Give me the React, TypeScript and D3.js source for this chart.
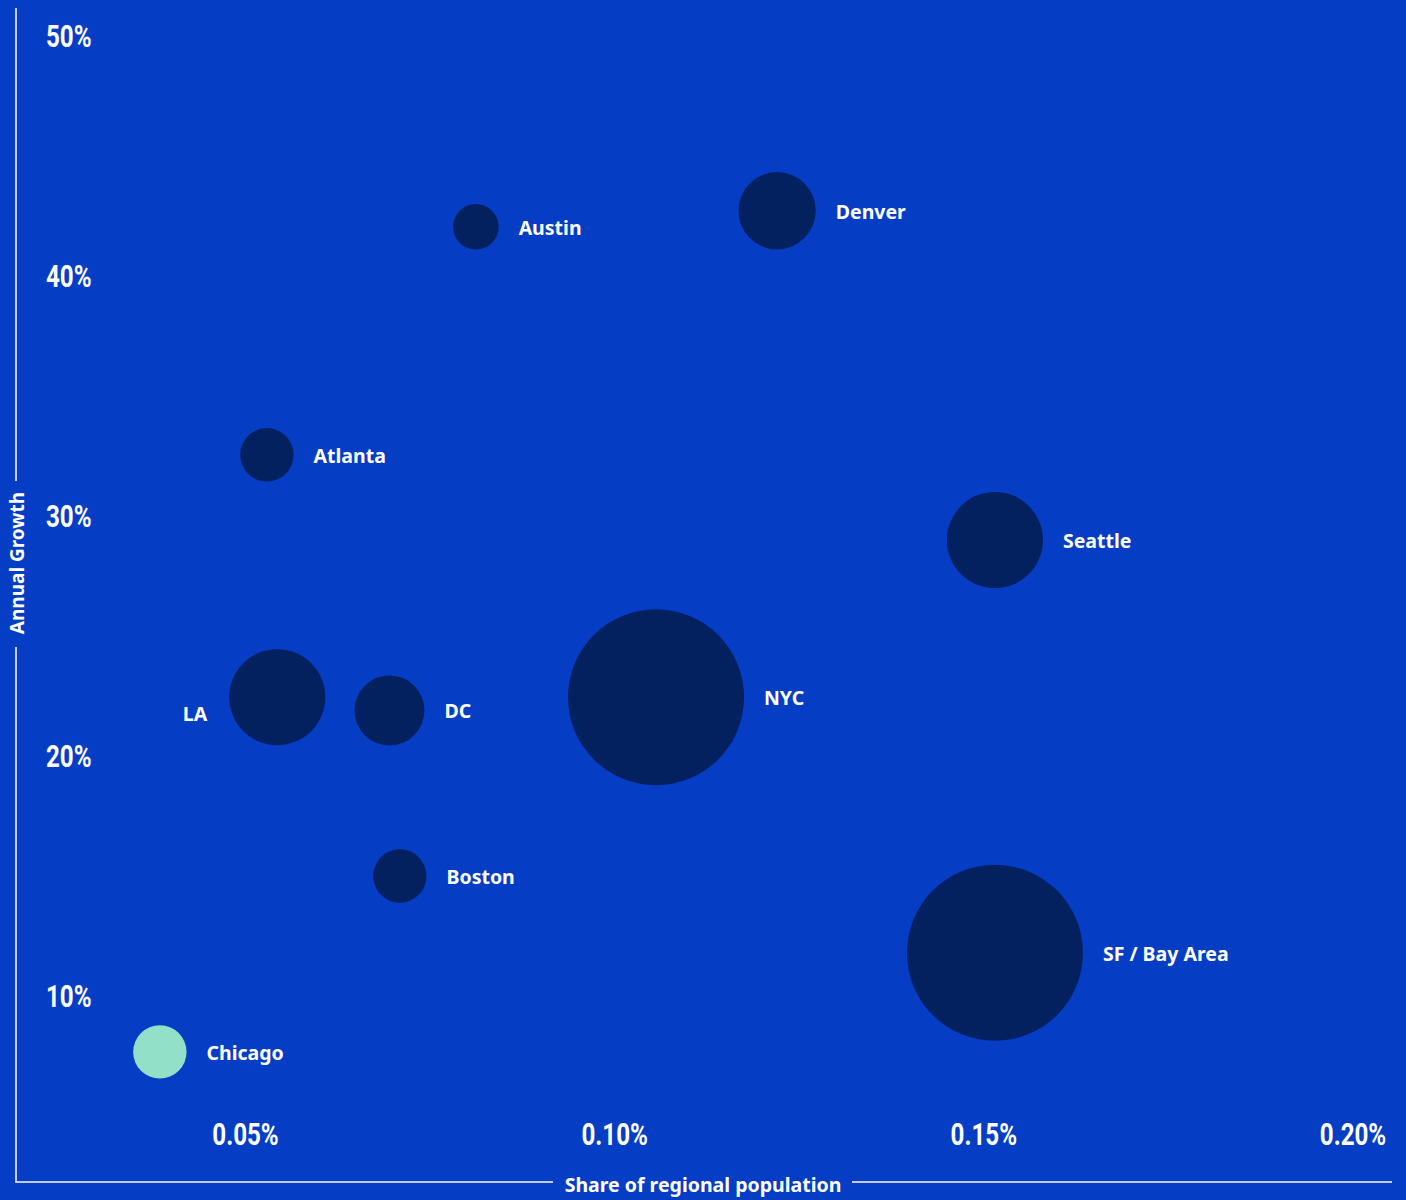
import React from "react";
import * as d3 from "d3";

const cities = ["Austin", "Denver", "Atlanta", "Seattle", "LA", "DC", "NYC", "Boston", "SF / Bay Area", "Chicago"];
const share = [0.0812, 0.122, 0.0529, 0.1515, 0.0543, 0.0695, 0.1056, 0.0709, 0.1515, 0.0384];
const growth = [42.05, 42.72, 32.55, 29.0, 22.45, 21.9, 22.45, 15.0, 11.8, 7.67];
const sizeValue = [6.7, 19.3, 9.2, 29.8, 29.8, 15.8, 100, 9.2, 100, 9.2];
const highlighted = ["Chicago"];
const xTicks = [0.05, 0.1, 0.15, 0.2];
const yTicks = [10, 20, 30, 40, 50];
const xTitle = "Share of regional population";
const yTitle = "Annual Growth";

const W = 1406;
const H = 1200;
const BG = "#053DC5";
const DOT = "#03205F";
const HI = "#93E0C8";
const AXIS = "#C3CBEE";
const LABEL_FONT = "'Noto Sans', 'Open Sans', Lato, sans-serif";
const TICK_FONT = "Roboto, 'Noto Sans', sans-serif";
const TICK_SQUEEZE = 0.78;

export default function App() {
  const x = d3.scaleLinear().domain([0.05, 0.2]).range([245.5, 1353]);
  const y = d3.scaleLinear().domain([10, 50]).range([996, 36]);
  const r = d3.scaleSqrt().domain([0, 100]).range([0, 88]);

  const leftLabels = new Set(["LA"]);
  const labelDy: Record<string, number> = { LA: 16 };

  const data = cities.map((c, i) => ({
    city: c,
    share: share[i],
    growth: growth[i],
    size: sizeValue[i],
  }));

  const axisY = 1182;
  const axisX = 16;

  return (
    <div style={{ position: "absolute", left: 0, top: 0, width: W, height: H }}>
      <svg width={W} height={H} style={{ display: "block" }}>
        <rect x={0} y={0} width={W} height={H} fill={BG} />

        {/* y axis line with gap for the title */}
        <line x1={axisX} x2={axisX} y1={8} y2={481} stroke={AXIS} strokeWidth={2} />
        <line x1={axisX} x2={axisX} y1={647} y2={axisY} stroke={AXIS} strokeWidth={2} />
        <text
          transform={`translate(${axisX + 8},563) rotate(-90)`}
          textAnchor="middle"
          fill="#FFFFFF"
          fontFamily={LABEL_FONT}
          fontWeight={700}
          fontSize={19}
        >
          {yTitle}
        </text>

        {/* x axis line with gap for the title */}
        <line x1={axisX - 1} x2={553} y1={axisY} y2={axisY} stroke={AXIS} strokeWidth={2} />
        <line x1={852} x2={1392} y1={axisY} y2={axisY} stroke={AXIS} strokeWidth={2} />
        <text
          x={703}
          y={1192}
          textAnchor="middle"
          fill="#FFFFFF"
          fontFamily={LABEL_FONT}
          fontWeight={700}
          fontSize={19.5}
        >
          {xTitle}
        </text>

        {/* y tick labels */}
        {yTicks.map((t) => (
          <text
            key={"y" + t}
            transform={`translate(46,${y(t) + 11}) scale(${TICK_SQUEEZE},1)`}
            fill="#FFFFFF"
            fontFamily={TICK_FONT}
            fontWeight={700}
            fontSize={31}
          >
            {t + "%"}
          </text>
        ))}

        {/* x tick labels */}
        {xTicks.map((t) => (
          <text
            key={"x" + t}
            transform={`translate(${x(t)},1145) scale(${TICK_SQUEEZE},1)`}
            textAnchor="middle"
            fill="#FFFFFF"
            fontFamily={TICK_FONT}
            fontWeight={700}
            fontSize={31}
          >
            {d3.format(".2f")(t) + "%"}
          </text>
        ))}

        {/* bubbles */}
        {data.map((d) => (
          <circle
            key={d.city}
            cx={x(d.share)}
            cy={y(d.growth)}
            r={r(d.size)}
            fill={highlighted.includes(d.city) ? HI : DOT}
          />
        ))}

        {/* labels */}
        {data.map((d) => {
          const cx = x(d.share);
          const cy = y(d.growth);
          const rr = r(d.size);
          const left = leftLabels.has(d.city);
          return (
            <text
              key={"l" + d.city}
              x={left ? cx - rr - 22 : cx + rr + 20}
              y={cy + 8 + (labelDy[d.city] || 0)}
              textAnchor={left ? "end" : "start"}
              fill="#FFFFFF"
              fontFamily={LABEL_FONT}
              fontWeight={700}
              fontSize={19.5}
            >
              {d.city}
            </text>
          );
        })}
      </svg>
    </div>
  );
}
